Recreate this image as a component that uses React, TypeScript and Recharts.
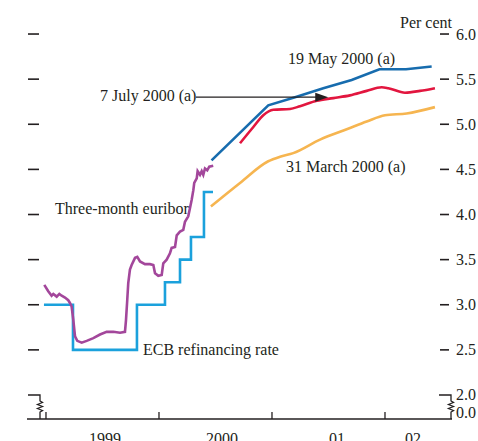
import { LineChart, Line, XAxis, YAxis, ReferenceLine, ReferenceDot } from 'recharts';

// time is in decimal years, values in per cent
const euribor = [
  { t: 1998.985, v: 3.22 }, { t: 1999.02, v: 3.15 }, { t: 1999.05, v: 3.1 }, { t: 1999.065, v: 3.12 },
  { t: 1999.095, v: 3.09 }, { t: 1999.118, v: 3.12 }, { t: 1999.139, v: 3.1 }, { t: 1999.168, v: 3.08 },
  { t: 1999.197, v: 3.05 }, { t: 1999.212, v: 3.02 }, { t: 1999.227, v: 2.98 }, { t: 1999.242, v: 2.83 },
  { t: 1999.257, v: 2.65 }, { t: 1999.277, v: 2.6 }, { t: 1999.316, v: 2.58 }, { t: 1999.36, v: 2.6 },
  { t: 1999.419, v: 2.63 }, { t: 1999.478, v: 2.67 }, { t: 1999.537, v: 2.7 }, { t: 1999.596, v: 2.7 },
  { t: 1999.655, v: 2.69 }, { t: 1999.699, v: 2.7 }, { t: 1999.708, v: 2.83 }, { t: 1999.719, v: 3.05 },
  { t: 1999.728, v: 3.24 }, { t: 1999.743, v: 3.39 }, { t: 1999.758, v: 3.44 }, { t: 1999.788, v: 3.52 },
  { t: 1999.808, v: 3.53 }, { t: 1999.832, v: 3.48 }, { t: 1999.876, v: 3.45 }, { t: 1999.92, v: 3.45 },
  { t: 1999.95, v: 3.44 }, { t: 1999.965, v: 3.35 }, { t: 1999.994, v: 3.32 }, { t: 2000.024, v: 3.33 },
  { t: 2000.038, v: 3.46 }, { t: 2000.068, v: 3.5 }, { t: 2000.097, v: 3.57 }, { t: 2000.112, v: 3.63 },
  { t: 2000.142, v: 3.64 }, { t: 2000.157, v: 3.77 }, { t: 2000.186, v: 3.81 }, { t: 2000.215, v: 3.83 },
  { t: 2000.23, v: 3.92 }, { t: 2000.259, v: 3.98 }, { t: 2000.274, v: 4.07 }, { t: 2000.289, v: 4.16 },
  { t: 2000.304, v: 4.27 }, { t: 2000.312, v: 4.35 }, { t: 2000.334, v: 4.4 }, { t: 2000.342, v: 4.48 },
  { t: 2000.363, v: 4.44 }, { t: 2000.378, v: 4.48 }, { t: 2000.392, v: 4.44 }, { t: 2000.407, v: 4.51 },
  { t: 2000.427, v: 4.49 }, { t: 2000.445, v: 4.53 }, { t: 2000.48, v: 4.54 },
];

const ecbRate = [
  { t: 1998.982, v: 3.0 }, { t: 1999.239, v: 2.5 }, { t: 1999.805, v: 3.0 }, { t: 2000.053, v: 3.25 },
  { t: 2000.186, v: 3.5 }, { t: 2000.283, v: 3.75 }, { t: 2000.398, v: 4.25 }, { t: 2000.478, v: 4.25 },
];

const may2000 = [
  { t: 2000.465, v: 4.6 }, { t: 2000.967, v: 5.21 }, { t: 2001.204, v: 5.3 }, { t: 2001.454, v: 5.4 },
  { t: 2001.705, v: 5.49 }, { t: 2001.951, v: 5.61 }, { t: 2002.186, v: 5.61 }, { t: 2002.413, v: 5.64 },
];

const july2000 = [
  { t: 2000.717, v: 4.79 }, { t: 2000.835, v: 4.97 }, { t: 2000.923, v: 5.1 }, { t: 2001.012, v: 5.16 },
  { t: 2001.159, v: 5.17 }, { t: 2001.248, v: 5.2 }, { t: 2001.396, v: 5.26 }, { t: 2001.543, v: 5.29 },
  { t: 2001.69, v: 5.32 }, { t: 2001.838, v: 5.37 }, { t: 2001.971, v: 5.41 }, { t: 2002.029, v: 5.4 },
  { t: 2002.177, v: 5.35 }, { t: 2002.31, v: 5.37 }, { t: 2002.442, v: 5.4 },
];

const march2000 = [
  { t: 2000.46, v: 4.09 }, { t: 2000.717, v: 4.35 }, { t: 2000.967, v: 4.59 }, { t: 2001.071, v: 4.64 },
  { t: 2001.188, v: 4.68 }, { t: 2001.425, v: 4.83 }, { t: 2001.673, v: 4.95 }, { t: 2001.838, v: 5.03 },
  { t: 2002.0, v: 5.1 }, { t: 2002.192, v: 5.12 }, { t: 2002.442, v: 5.19 },
];

const yearTicks = [1999, 2000, 2001, 2002];
const yearLabels = [
  { t: 1999.522, label: '1999' }, { t: 2000.558, label: '2000' },
  { t: 2001.575, label: '01' }, { t: 2002.248, label: '02' },
];
const BREAK_LOW = 1.734; // bottom of the broken axis, shown as 0.0
const valueTicks = [BREAK_LOW, 2, 2.5, 3, 3.5, 4, 4.5, 5, 5.5, 6];

const FONT = '"Liberation Serif", "Times New Roman", serif';
const INK = '#231f20';

const zigzag = (x: number, y: number) =>
  `V${y + 6} l2.5,1.5 l-5,2 l5,2 l-5,2 l5,2 l-2.5,1.5 V${y + 24}`;

function LeftTick({ x, y, payload }: any) {
  const v = payload.value;
  if (v < 2) return null;
  if (v === 2)
    return <path d={`M${x + 1},${y} H${x + 13} ${zigzag(x + 13, y)}`} fill="none" stroke={INK} strokeWidth={1.3} />;
  return <line x1={x + 1} x2={x + 12} y1={y} y2={y} stroke={INK} strokeWidth={1.6} />;
}

function RightTick({ x, y, payload }: any) {
  const v = payload.value;
  const low = v < 2;
  return (
    <g>
      {v > 2 && <line x1={x - 12} x2={x - 3} y1={y} y2={y} stroke={INK} strokeWidth={1.6} />}
      {v === 2 && <path d={`M${x - 13},${y} H${x - 1} ${zigzag(x - 1, y)}`} fill="none" stroke={INK} strokeWidth={1.3} />}
      <text x={x + 4} y={low ? y - 1 : y + 5.5} fontFamily={FONT} fontSize={16} fill={INK}>
        {low ? '0.0' : v.toFixed(1)}
      </text>
    </g>
  );
}

function TimeTick({ x, y, payload }: any) {
  const lab = yearLabels.find(l => l.t === payload.value);
  if (lab)
    return <text x={x} y={y + 25} textAnchor="middle" fontFamily={FONT} fontSize={16} fill={INK}>{lab.label}</text>;
  return <line x1={x} x2={x} y1={y} y2={y - 7} stroke={INK} strokeWidth={1.3} />;
}

const arrowHead = ({ cx, cy }: any) => <path d={`M${cx},${cy} l-13,-4.5 v9 z`} fill={INK} />;

const notes = [
  { x: 400, y: 28, text: 'Per cent' },
  { x: 288, y: 63.5, text: '19 May 2000 (a)' },
  { x: 100, y: 101, text: '7 July 2000 (a)' },
  { x: 286, y: 172, text: '31 March 2000 (a)' },
  { x: 55, y: 214, text: 'Three-month euribor' },
  { x: 143, y: 355, text: 'ECB refinancing rate' },
];

export default function App() {
  return (
    <div style={{ position: 'absolute', left: 0, top: 0, width: 478, height: 441, background: '#fff' }}>
      <LineChart width={478} height={441} margin={{ top: 25, right: 0, bottom: 0, left: 0 }}>
        <XAxis
          type="number" dataKey="t" domain={[1998.832, 2002.593]} allowDataOverflow
          ticks={[...yearTicks, ...yearLabels.map(l => l.t)]} interval={0}
          tick={TimeTick} tickLine={false} tickSize={0} tickMargin={0} height={22}
          axisLine={{ stroke: INK, strokeWidth: 1.6 }}
        />
        <YAxis
          yAxisId="l" orientation="left" width={27} domain={[BREAK_LOW, 6.1]} allowDataOverflow
          ticks={valueTicks} interval={0} tick={LeftTick} tickLine={false} tickSize={0} tickMargin={0} axisLine={false}
        />
        <YAxis
          orientation="right" width={26} domain={[BREAK_LOW, 6.1]} allowDataOverflow
          ticks={valueTicks} interval={0} tick={RightTick} tickLine={false} tickSize={0} tickMargin={0} axisLine={false}
        />
        <Line data={ecbRate} dataKey="v" type="stepAfter" stroke="#1ba1dc" strokeWidth={2.6} dot={false} isAnimationActive={false} />
        <Line data={euribor} dataKey="v" type="linear" stroke="#a3479b" strokeWidth={2.6} dot={false} isAnimationActive={false} />
        <Line data={march2000} dataKey="v" type="monotone" stroke="#f6b550" strokeWidth={2.6} dot={false} isAnimationActive={false} />
        <Line data={july2000} dataKey="v" type="monotone" stroke="#e2163f" strokeWidth={2.6} dot={false} isAnimationActive={false} />
        <Line data={may2000} dataKey="v" type="linear" stroke="#176cae" strokeWidth={2.6} dot={false} isAnimationActive={false} />
        <ReferenceLine segment={[{ x: 2000.327, y: 5.3 }, { x: 2001.45, y: 5.3 }]} stroke={INK} strokeWidth={1.2} />
        <ReferenceDot x={2001.498} y={5.3} r={0} shape={arrowHead} />
      </LineChart>
      <svg width={478} height={441} style={{ position: 'absolute', left: 0, top: 0, pointerEvents: 'none' }}>
        {notes.map(n => (
          <text key={n.text} x={n.x} y={n.y} fontFamily={FONT} fontSize={16} fill={INK}>{n.text}</text>
        ))}
      </svg>
    </div>
  );
}
